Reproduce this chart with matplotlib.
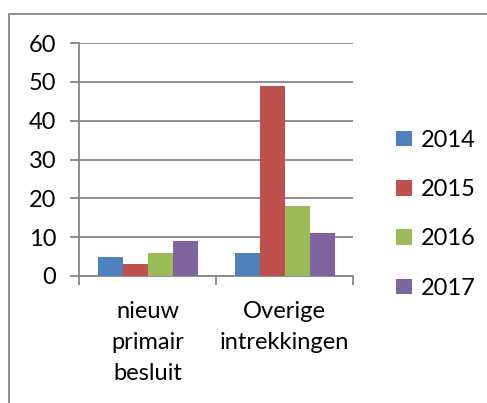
import matplotlib
matplotlib.use("Agg")
import matplotlib.pyplot as plt
import numpy as np
from matplotlib.patches import Rectangle

categories = ["nieuw\nprimair\nbesluit", "Overige\nintrekkingen"]
years = ["2014", "2015", "2016", "2017"]
values = {
    "2014": [5, 6],
    "2015": [3, 49],
    "2016": [6, 18],
    "2017": [9, 11],
}
colors = ["#4F81BD", "#C0504D", "#9BBB59", "#8064A2"]

plt.rcParams['font.family'] = ['Lato', 'DejaVu Sans']
grey = "#868686"

fig = plt.figure(figsize=(4.87, 4.03), dpi=100)
fig.patches.append(Rectangle((9 / 487, -0.1), 1.2, 1 - 14 / 403 + 0.1,
                             transform=fig.transFigure, fill=False,
                             edgecolor=grey, linewidth=1.3))

ax = fig.add_axes([79 / 487, 1 - 276 / 403, 274 / 487, 233 / 403])
x = np.arange(len(categories))
w = 25 / 137
for i, (yr, c) in enumerate(zip(years, colors)):
    ax.bar(x + (i - 1.5) * w, values[yr], width=w, color=c, label=yr, zorder=3)

ax.set_xlim(-0.5, 1.5)
ax.set_ylim(0, 60)
ax.set_yticks(range(0, 61, 10))
ax.yaxis.grid(True, color=grey, linewidth=1.3, zorder=0)
ax.set_xticks(x)
ax.set_xticklabels(categories, fontsize=17, linespacing=1.6)
ax.set_xticks([-0.5, 0.5, 1.5], minor=True)
ax.tick_params(axis='x', which='major', length=0, pad=18)
ax.tick_params(axis='x', which='minor', length=6.5, width=1.3, color=grey, direction='out')
ax.tick_params(axis='y', length=6.5, width=1.3, color=grey, labelsize=17, pad=10)
for s in ['top', 'right']:
    ax.spines[s].set_visible(False)
for s in ['left', 'bottom']:
    ax.spines[s].set_color(grey)
    ax.spines[s].set_linewidth(1.3)

ax.legend(loc='center left', bbox_to_anchor=(1.08, 0.265), frameon=False,
          fontsize=17, handlelength=0.65, handleheight=0.65, handletextpad=0.4,
          labelspacing=1.2)

fig.savefig("out.png", dpi=100)
